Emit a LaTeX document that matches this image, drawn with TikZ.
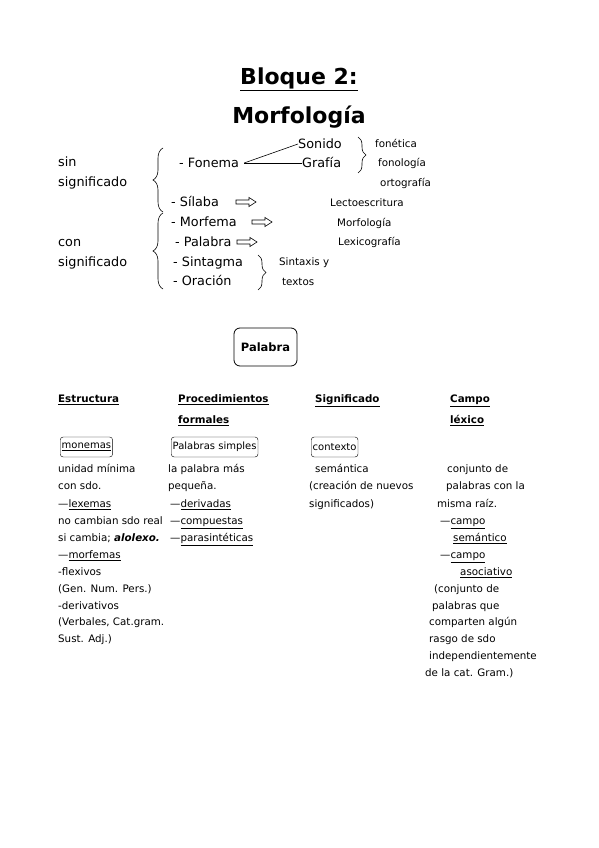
\documentclass[tikz,border=0pt]{standalone}
\usepackage{fontspec}
\setmainfont{DejaVu Sans}
\usetikzlibrary{arrows.meta,positioning,decorations.pathreplacing}

\begin{document}
\begin{tikzpicture}[x=1pt, y=-1pt,
    txt/.style={anchor=west, inner sep=0pt, text height=7.6pt, text depth=0pt, font=\fontsize{10.3}{12}\selectfont},
    big/.style={anchor=west, inner sep=0pt, text height=9pt, text depth=0pt, font=\fontsize{12.8}{14}\selectfont},
    head/.style={anchor=west, inner sep=0pt, text height=7.6pt, text depth=0pt, font=\bfseries\fontsize{10.3}{12}\selectfont},
    title/.style={inner sep=0pt, font=\bfseries\fontsize{22}{26}\selectfont},
    tagbox/.style={draw, anchor=west, rounded corners=3pt, inner xsep=1.5pt, minimum height=20pt, font=\fontsize{10}{12}\selectfont},
    brc/.style={decorate, decoration={brace, amplitude=#1}, semithick},
    brc/.default=8pt,
    hollow/.style={semithick, line join=miter}
  ]
    \useasboundingbox (0,0) rectangle (599,848);

    % title
    \node[title] (bloque) at (299,79) {\underline{Bloque 2:}};
    \node[title] (morfo) at (299,117) {Morfología};

    % sin / con significado
    \node[big] (sin) at (58,162) {sin};
    \node[big] (sinsdo) at (58,182) {significado};
    \node[big] (con) at (58,242) {con};
    \node[big] (consdo) at (58,262) {significado};

    \node[big] (fonema) at (179,163) {- Fonema};
    \node[big] (sonido) at (298,144) {Sonido};
    \node[big] (grafia) at (302,163) {Grafía};
    \node[big] (silaba) at (171,202) {- Sílaba};
    \node[big] (morfema) at (171,222) {- Morfema};
    \node[big] (palabra) at (175,242) {- Palabra};
    \node[big] (sintagma) at (173,262) {- Sintagma};
    \node[big] (oracion) at (173,281) {- Oración};

    \node[txt] (fonetica) at (375,144) {fonética};
    \node[txt] (fonologia) at (378,163) {fonología};
    \node[txt] (ortografia) at (380,183) {ortografía};
    \node[txt] (lecto) at (330,203) {Lectoescritura};
    \node[txt] (morfologia) at (337,223) {Morfología};
    \node[txt] (lexicografia) at (338,242) {Lexicografía};
    \node[txt] (sintaxis) at (279,262) {Sintaxis y};
    \node[txt] (textos) at (282,282) {textos};

    % hollow arrows
    \coordinate (arrsil) at (236,202);
    \coordinate (arrmor) at (252,222);
    \coordinate (arrpal) at (237,242);
    \foreach \a in {arrsil,arrmor,arrpal}
      \draw[hollow] (\a) ++(0,-2) -- ++(13,0) -- ++(0,-2.5) -- ++(7,4.5)
        -- ++(-7,4.5) -- ++(0,-2.5) -- ++(-13,0) -- cycle;

    \coordinate (fonpt) at ([xshift=5pt]fonema.east);
    \draw[semithick] (fonpt) -- (sonido.west);
    \draw[semithick] (fonpt) -- (grafia.west);

    \draw[brc=10pt] (163,212) -- (163,148);
    \draw[brc=10pt] (163,289) -- (163,213);
    \draw[brc] (358,137) -- (358,173);
    \draw[brc] (258,255) -- (258,290);

    % palabra
    \node[draw, thick, rounded corners=6pt, minimum width=63pt, minimum height=38pt,
      font=\bfseries\fontsize{11.5}{13}\selectfont] (palabrabox) at (265.5,347) {Palabra};

    % column heads
    \node[head] (estructura) at (58,399) {\underline{Estructura}};
    \node[head] (proced) at (178,399) {\underline{Procedimientos}};
    \node[head] (formales) at (178,420) {\underline{formales}};
    \node[head] (significado) at (315,399) {\underline{Significado}};
    \node[head] (campo) at (450,399) {\underline{Campo}};
    \node[head] (lexico) at (450,420) {\underline{léxico}};

    \node[tagbox] (monemas) at (60,447) {\underline{monemas}};
    \node[tagbox] (simples) at (171,447) {Palabras simples};
    \node[tagbox] (contexto) at (311,447) {contexto};

    % Estructura
    \node[txt] (e1) at (58,469) {unidad mínima};
    \node[txt] (e2) at (58,486) {con sdo.};
    \node[txt] (e3) at (58,504) {—\underline{lexemas}};
    \node[txt] (e4) at (58,521) {no cambian sdo real};
    \node[txt] (e5) at (58,538) {si cambia; \textbf{\textit{alolexo.}}};
    \node[txt] (e6) at (58,555) {—\underline{morfemas}};
    \node[txt] (e7) at (58,572) {-flexivos};
    \node[txt] (e8) at (58,589) {(Gen. Num. Pers.)};
    \node[txt] (e9) at (58,606) {-derivativos};
    \node[txt] (e10) at (58,622) {(Verbales, Cat.gram.};
    \node[txt] (e11) at (58,639) {Sust. Adj.)};

    % Procedimientos formales
    \node[txt] (p1) at (168,469) {la palabra más};
    \node[txt] (p2) at (168,486) {pequeña.};
    \node[txt] (p3) at (170,504) {—\underline{derivadas}};
    \node[txt] (p4) at (170,521) {—\underline{compuestas}};
    \node[txt] (p5) at (170,538) {—\underline{parasintéticas}};

    % Significado
    \node[txt] (s1) at (315,469) {semántica};
    \node[txt] (s2) at (309,486) {(creación de nuevos};
    \node[txt] (s3) at (309,504) {significados)};

    % Campo lexico
    \node[txt] (c1) at (447,469) {conjunto de};
    \node[txt] (c2) at (446,486) {palabras con la};
    \node[txt] (c3) at (437,504) {misma raíz.};
    \node[txt] (c4) at (440,521) {—\underline{campo}};
    \node[txt] (c5) at (453,538) {\underline{semántico}};
    \node[txt] (c6) at (440,555) {—\underline{campo}};
    \node[txt] (c7) at (460,572) {\underline{asociativo}};
    \node[txt] (c8) at (434,589) {(conjunto de};
    \node[txt] (c9) at (432,606) {palabras que};
    \node[txt] (c10) at (429,622) {comparten algún};
    \node[txt] (c11) at (429,639) {rasgo de sdo};
    \node[txt] (c12) at (429,656) {independientemente};
    \node[txt] (c13) at (425,673) {de la cat. Gram.)};
  \end{tikzpicture}
\end{document}
